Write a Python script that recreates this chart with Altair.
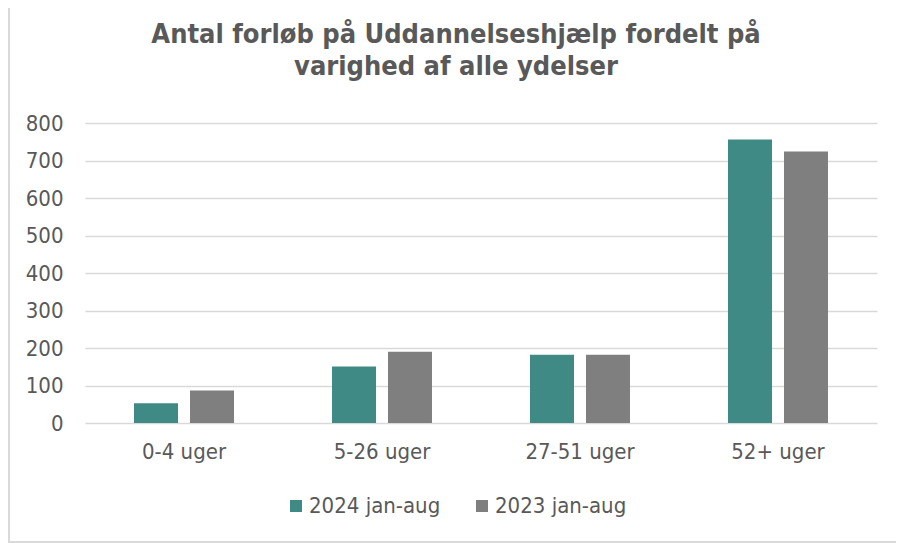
import altair as alt
import pandas as pd

categories = ["0-4 uger", "5-26 uger", "27-51 uger", "52+ uger"]
series_names = ["2024 jan-aug", "2023 jan-aug"]
values_2024 = [53, 151, 182, 756]
values_2023 = [87, 190, 182, 724]
y_ticks = [0, 100, 200, 300, 400, 500, 600, 700, 800]
colors = ["#408A86", "#7F7F7F"]
title_lines = ["Antal forløb på Uddannelseshjælp fordelt på", "varighed af alle ydelser"]

rows = []
for c, v in zip(categories, values_2024):
    rows.append({"kategori": c, "serie": series_names[0], "antal": v})
for c, v in zip(categories, values_2023):
    rows.append({"kategori": c, "serie": series_names[1], "antal": v})
df = pd.DataFrame(rows)

FONT = "DejaVu Sans Condensed"
TXT = "#595959"

bars = alt.Chart(df).mark_bar(stroke=None).encode(
    x=alt.X("kategori:N", sort=categories,
            scale=alt.Scale(paddingInner=0.495, paddingOuter=0.2475),
            axis=alt.Axis(title=None, labelAngle=0, ticks=False, domain=False,
                          labelFontSize=22, labelColor=TXT, labelFont=FONT,
                          labelPadding=18, grid=False)),
    xOffset=alt.XOffset("serie:N", sort=series_names,
                        scale=alt.Scale(paddingInner=0.2143, paddingOuter=0)),
    y=alt.Y("antal:Q", scale=alt.Scale(domain=[0, 800]),
            axis=alt.Axis(title=None, values=y_ticks, ticks=False, domain=False,
                          labelFontSize=22, labelColor=TXT, labelFont=FONT,
                          labelPadding=22, gridColor="#D9D9D9", gridWidth=1.5)),
    color=alt.Color("serie:N", sort=series_names,
                    scale=alt.Scale(domain=series_names, range=colors),
                    legend=alt.Legend(title=None, orient="none", direction="horizontal",
                                      legendX=200, legendY=372,
                                      symbolType="square", symbolSize=144,
                                      symbolStrokeWidth=0,
                                      labelFontSize=22, labelColor=TXT, labelFont=FONT,
                                      labelOffset=2, columnPadding=30)),
)

title1 = alt.Chart(pd.DataFrame({"t": [title_lines[0]]})).mark_text(
    font=FONT, fontSize=27, fontWeight="bold", color=TXT, align="center", baseline="alphabetic"
).encode(text="t:N", x=alt.value(371), y=alt.value(-80))
title2 = alt.Chart(pd.DataFrame({"t": [title_lines[1]]})).mark_text(
    font=FONT, fontSize=27, fontWeight="bold", color=TXT, align="center", baseline="alphabetic"
).encode(text="t:N", x=alt.value(371), y=alt.value(-48))

border_left = alt.Chart(df).mark_rule(color="#D9D9D9", strokeWidth=2).encode(
    x=alt.value(-76), y=alt.value(-115), y2=alt.value(419)
)
border_bottom = alt.Chart(df).mark_rule(color="#D9D9D9", strokeWidth=2).encode(
    x=alt.value(-77), x2=alt.value(830), y=alt.value(419)
)

chart = alt.layer(bars, title1, title2, border_left, border_bottom).properties(
    width=792,
    height=300,
    autosize=alt.AutoSizeParams(type="none"),
    padding={"left": 77, "top": 115, "right": 19, "bottom": 120},
).configure(background="white").configure_view(strokeWidth=0)

chart.save("out.html", embed_options={"renderer": "svg", "actions": False})
